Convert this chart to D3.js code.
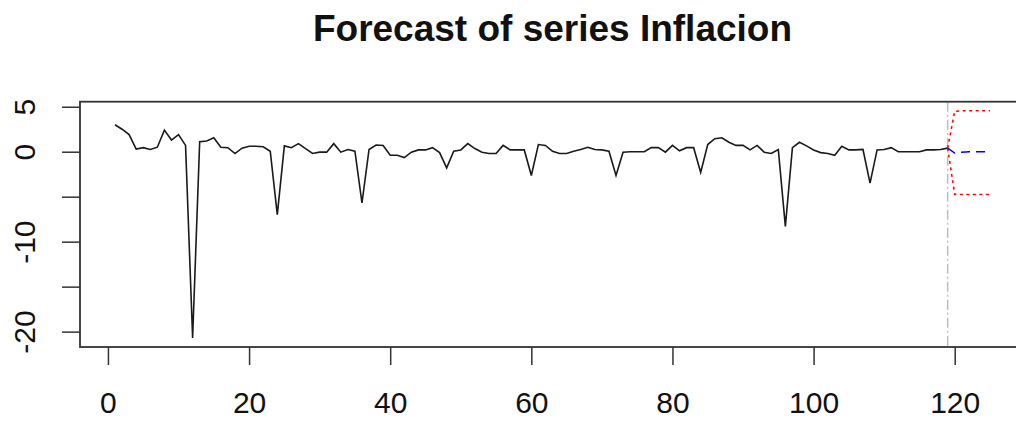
<!DOCTYPE html>
<html>
<head>
<meta charset="utf-8">
<script src="https://cdn.jsdelivr.net/npm/d3@7"></script>
<style>
  body { margin: 0; background: #fff; }
  svg { display: block; font-family: "Liberation Sans", Arial, sans-serif; }
</style>
</head>
<body>
<svg width="1016" height="423"></svg>
<script>
// observed series, t = 1..119
const inflacion = [
  3.0, 2.5, 1.9, 0.3, 0.45, 0.25, 0.5, 2.4, 1.3, 1.9,
  0.7, -20.7, 1.1, 1.2, 1.55, 0.5, 0.45, -0.2, 0.4, 0.6,
  0.6, 0.55, 0.05, -7.0, 0.65, 0.45, 0.9, 0.35, -0.2, -0.05,
  -0.05, 0.9, -0.05, 0.25, 0.05, -5.7, 0.25, 0.75, 0.7, -0.4,
  -0.4, -0.65, -0.05, 0.2, 0.2, 0.45, -0.1, -1.8, 0.05, 0.2,
  0.9, 0.35, -0.05, -0.2, -0.2, 0.7, 0.2, 0.2, 0.2, -2.65,
  0.8, 0.7, 0.05, -0.2, -0.2, 0.05, 0.25, 0.5, 0.25, 0.2,
  0.05, -2.65, -0.05, 0.0, 0.0, 0.0, 0.45, 0.45, -0.05, 0.7,
  0.1, 0.45, 0.45, -2.3, 0.8, 1.45, 1.55, 1.05, 0.7, 0.7,
  0.2, 0.7, -0.05, -0.2, 0.25, -8.3, 0.45, 1.05, 0.65, 0.2,
  -0.1, -0.2, -0.4, 0.6, 0.2, 0.2, 0.25, -3.5, 0.2, 0.25,
  0.45, 0.0, 0.0, 0.0, 0.0, 0.2, 0.2, 0.25, 0.4
];
// forecast, t = 120..125
const fcst = [-0.15, -0.05, 0.0, 0.0, 0.0, 0.0];
const upper = [4.5, 4.55, 4.55, 4.55, 4.55, 4.55];
const lower = [-4.75, -4.75, -4.75, -4.75, -4.75, -4.75];

const xTicks = [0, 20, 40, 60, 80, 100, 120];
const yTicks = [-20, -15, -10, -5, 0, 5];
const yLabelled = [-20, -10, 0, 5];
const title = "Forecast of series Inflacion";

const svg = d3.select("svg");
const boxLeft = 80;
const boxTop = 101.7;
const boxBottom = 347;
const boxRight = 1025;

const smpl = inflacion.length;
const nAhead = fcst.length;
const n = smpl + nAhead;

// R style 4% axis extension
const pad = (lo, hi) => [lo - (hi - lo) * 0.04, hi + (hi - lo) * 0.04];
const allY = inflacion.concat(upper, lower);

const x = d3.scaleLinear().domain(pad(1, n)).range([boxLeft, boxRight]);
const y = d3.scaleLinear().domain(pad(d3.min(allY), d3.max(allY))).range([boxBottom, boxTop]);

const obs = inflacion.map((v, i) => [i + 1, v]);
// forecast lines start at the last observation
const joinLast = arr => [[smpl, inflacion[smpl - 1]]].concat(arr.map((v, i) => [smpl + 1 + i, v]));

const line = d3.line().x(d => x(d[0])).y(d => y(d[1]));

svg.append("text")
  .attr("x", (boxLeft + boxRight) / 2)
  .attr("y", 41)
  .attr("text-anchor", "middle")
  .attr("font-size", 37)
  .attr("font-weight", "bold")
  .attr("fill", "#111")
  .text(title);

// end of sample marker
svg.append("line")
  .attr("x1", x(smpl)).attr("x2", x(smpl))
  .attr("y1", boxTop).attr("y2", boxBottom)
  .attr("stroke", "#bebebe")
  .attr("stroke-width", 1.5)
  .attr("stroke-dasharray", "10,3,2,3");

svg.append("path")
  .attr("d", line(obs))
  .attr("fill", "none")
  .attr("stroke", "#1a1a1a")
  .attr("stroke-width", 1.6);

svg.append("path")
  .attr("d", line(joinLast(upper)))
  .attr("fill", "none")
  .attr("stroke", "red")
  .attr("stroke-width", 1.5)
  .attr("stroke-dasharray", "3,3.5");

svg.append("path")
  .attr("d", line(joinLast(lower)))
  .attr("fill", "none")
  .attr("stroke", "red")
  .attr("stroke-width", 1.5)
  .attr("stroke-dasharray", "3,3.5");

svg.append("path")
  .attr("d", line(joinLast(fcst)))
  .attr("fill", "none")
  .attr("stroke", "blue")
  .attr("stroke-width", 1.5)
  .attr("stroke-dasharray", "9,6");

// box
svg.append("rect")
  .attr("x", boxLeft).attr("y", boxTop)
  .attr("width", boxRight - boxLeft).attr("height", boxBottom - boxTop)
  .attr("fill", "none")
  .attr("stroke", "#333")
  .attr("stroke-width", 1.8);

const xAxis = svg.append("g")
  .attr("transform", `translate(0,${boxBottom})`)
  .call(d3.axisBottom(x).tickValues(xTicks).tickSize(18).tickPadding(26.7).tickFormat(d3.format("d")));

const yAxis = svg.append("g")
  .attr("transform", `translate(${boxLeft},0)`)
  .call(d3.axisLeft(y).tickValues(yTicks).tickSize(18)
    .tickFormat(d => yLabelled.includes(d) ? d3.format("d")(d).replace("\u2212", "-") : ""));

[xAxis, yAxis].forEach(g => {
  g.select(".domain").remove();
  g.selectAll(".tick line").attr("stroke", "#333").attr("stroke-width", 1.5);
  g.selectAll(".tick text").attr("font-size", 30).attr("fill", "#111")
    .attr("font-family", "Liberation Sans, Arial, sans-serif");
});

yAxis.selectAll(".tick text")
  .attr("x", null)
  .attr("dy", null)
  .attr("text-anchor", "middle")
  .attr("transform", "translate(-45,0) rotate(-90)");
</script>
</body>
</html>
